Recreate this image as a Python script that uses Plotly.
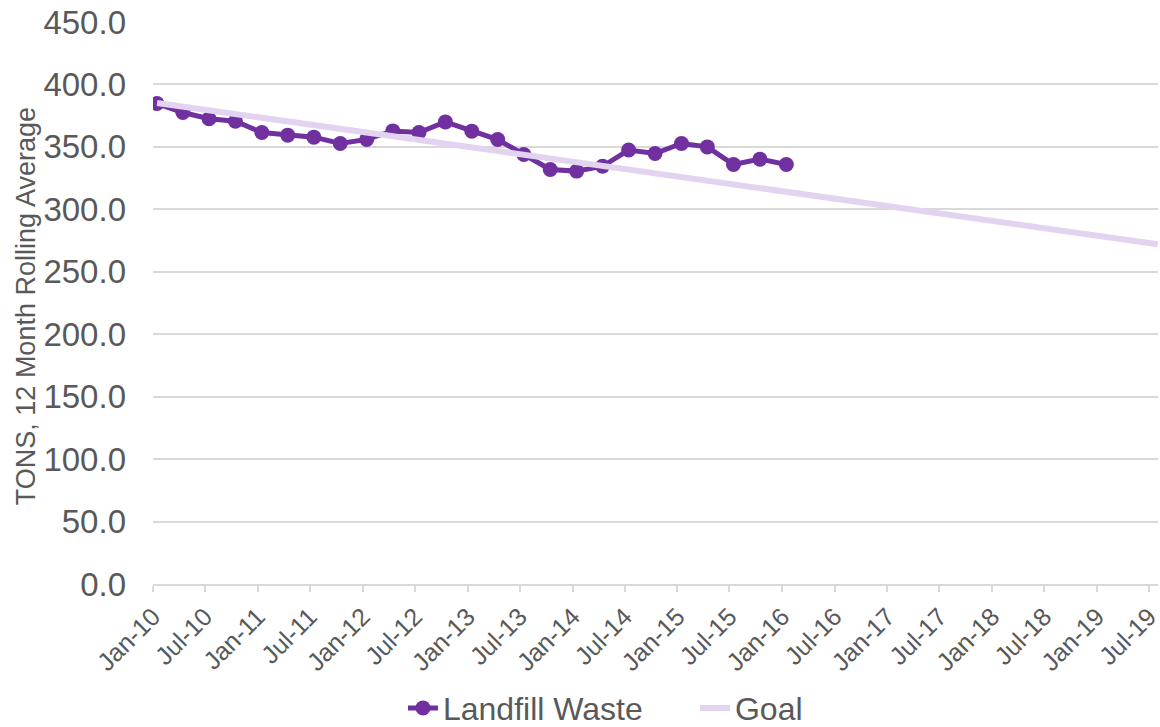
import plotly.graph_objects as go

# Data (quarterly, 12-month rolling average, tons)
landfill_dates = [
    "2010-01-15", "2010-04-15", "2010-07-15", "2010-10-15",
    "2011-01-15", "2011-04-15", "2011-07-15", "2011-10-15",
    "2012-01-15", "2012-04-15", "2012-07-15", "2012-10-15",
    "2013-01-15", "2013-04-15", "2013-07-15", "2013-10-15",
    "2014-01-15", "2014-04-15", "2014-07-15", "2014-10-15",
    "2015-01-15", "2015-04-15", "2015-07-15", "2015-10-15",
    "2016-01-15",
]
landfill_values = [
    384.7, 377.5, 372.5, 370.5,
    361.5, 359.4, 357.8, 352.7,
    356.0, 362.8, 361.5, 370.0,
    362.6, 355.9, 343.9, 331.9,
    330.6, 334.5, 347.5, 344.7,
    352.7, 350.0, 335.9, 340.2,
    335.9,
]

goal_dates = ["2010-01-15", "2019-07-31"]
goal_values = [385.2, 272.0]

x_range = ["2010-01-01", "2019-08-01"]
x_tickvals = [
    "2010-01-01", "2010-07-01", "2011-01-01", "2011-07-01",
    "2012-01-01", "2012-07-01", "2013-01-01", "2013-07-01",
    "2014-01-01", "2014-07-01", "2015-01-01", "2015-07-01",
    "2016-01-01", "2016-07-01", "2017-01-01", "2017-07-01",
    "2018-01-01", "2018-07-01", "2019-01-01", "2019-07-01",
]
x_ticktext = [
    "Jan-10", "Jul-10", "Jan-11", "Jul-11", "Jan-12", "Jul-12",
    "Jan-13", "Jul-13", "Jan-14", "Jul-14", "Jan-15", "Jul-15",
    "Jan-16", "Jul-16", "Jan-17", "Jul-17", "Jan-18", "Jul-18",
    "Jan-19", "Jul-19",
]
y_tickvals = [0, 50, 100, 150, 200, 250, 300, 350, 400, 450]

TEXT = "#595959"
GRID = "#D9D9D9"
FONT = "Liberation Sans, Arial, sans-serif"

fig = go.Figure()
fig.add_trace(go.Scatter(
    x=landfill_dates, y=landfill_values, name="Landfill Waste",
    mode="lines+markers",
    line=dict(color="#7030A0", width=5),
    marker=dict(color="#7030A0", size=15),
))
fig.add_trace(go.Scatter(
    x=goal_dates, y=goal_values, name="Goal",
    mode="lines",
    line=dict(color="#E2D3F0", width=6),
))

fig.update_layout(
    width=1160, height=727,
    margin=dict(l=153, r=2, t=22, b=143),
    paper_bgcolor="white", plot_bgcolor="white",
    font=dict(family=FONT, color=TEXT),
    showlegend=True,
    legend=dict(
        orientation="h", xref="container", yref="container",
        x=0.3474, xanchor="left", y=0.026, yanchor="middle",
        font=dict(size=32, color=TEXT),
        entrywidth=247, entrywidthmode="pixels",
        traceorder="normal",
    ),
    xaxis=dict(
        type="date", range=x_range, automargin=False,
        tickvals=x_tickvals, ticktext=x_ticktext,
        tickangle=-45, tickfont=dict(size=25, color=TEXT),
        ticklabeloverflow="allow",
        showgrid=False, showline=True, linecolor=GRID, linewidth=2,
        ticks="outside", ticklen=6, tickcolor=GRID, tickwidth=2,
        zeroline=False,
    ),
    yaxis=dict(
        range=[0, 450], tickvals=y_tickvals, tickformat=".1f",
        automargin=False,
        tickfont=dict(size=33, color=TEXT),
        showgrid=True, gridcolor=GRID, gridwidth=1.5,
        showline=False, zeroline=False, ticks="",
        ticklabelstandoff=26,
    ),
    annotations=[dict(
        text="TONS, 12 Month Rolling Average",
        xref="paper", yref="paper", x=-0.127, y=0.495,
        xanchor="center", yanchor="middle", textangle=-90,
        showarrow=False, font=dict(size=27, color=TEXT),
    )],
)

fig.write_html(
    "out.html",
    config={"displayModeBar": False},
    post_script="document.body.style.margin='0px';",
)
